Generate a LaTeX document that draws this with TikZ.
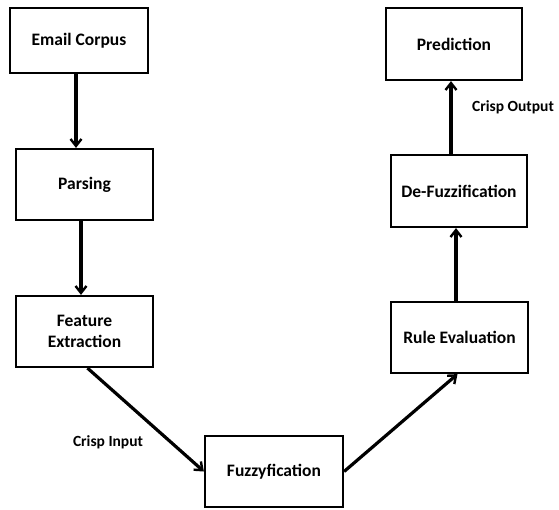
\documentclass[tikz,border=0pt]{standalone}
\usepackage{fontspec}
\setmainfont{Carlito}
\usetikzlibrary{arrows.meta, positioning}

\tikzset{
  stagebox/.style={draw, line width=2.2pt, fill=white, align=center,
    minimum width=137pt, minimum height=71pt, inner sep=2pt,
    font=\bfseries\fontsize{17.5}{21}\selectfont},
  flowarrow/.style={line width=3.2pt, -{Straight Barb[length=7pt, width=11pt, line width=2.4pt]}},
  flowlabel/.style={font=\bfseries\fontsize{15.5}{17}\selectfont, inner sep=0pt}
}

\begin{document}
\begin{tikzpicture}[x=1pt, y=-1pt]
  \useasboundingbox (0,0) rectangle (559,510);
  % left column
  \node[stagebox, minimum width=138pt, minimum height=65pt] (email) at (79,40.5) {Email Corpus};
  \node[stagebox] (parse) at (84.5,184.5) {Parsing};
  \node[stagebox] (feat) at (84.5,331.5) {Feature\\Extraction};
  % bottom
  \node[stagebox, minimum width=138pt] (fuzz) at (274,471.5) {Fuzzyfication};
  % right column
  \node[stagebox] (rule) at (459.5,337.5) {Rule Evaluation};
  \node[stagebox, minimum width=136pt, minimum height=72pt] (defuzz) at (459,191) {De-Fuzzification};
  \node[stagebox, minimum width=136pt, minimum height=72pt] (pred) at (454,44) {Prediction};
  % labels
  \node[flowlabel] (cin) at (108,442) {Crisp Input};
  \node[flowlabel] (cout) at (513,107) {Crisp Output};

  \coordinate (e1) at ([xshift=-3pt]email.south);
  \coordinate (p1) at ([xshift=-3.5pt]parse.south);
  \draw[flowarrow] (e1) -- (e1 |- parse.north);
  \draw[flowarrow] (p1) -- (p1 |- feat.north);
  \draw[flowarrow] ([xshift=3pt]feat.south) -- (fuzz.west);
  \draw[flowarrow] (fuzz.east) -- ([xshift=-2pt]rule.south);
  \coordinate (r1) at ([xshift=-3.5pt]rule.north);
  \coordinate (d1) at ([xshift=-8pt]defuzz.north);
  \draw[flowarrow] (r1) -- (r1 |- defuzz.south);
  \draw[flowarrow] (d1) -- (d1 |- pred.south);
\end{tikzpicture}
\end{document}
